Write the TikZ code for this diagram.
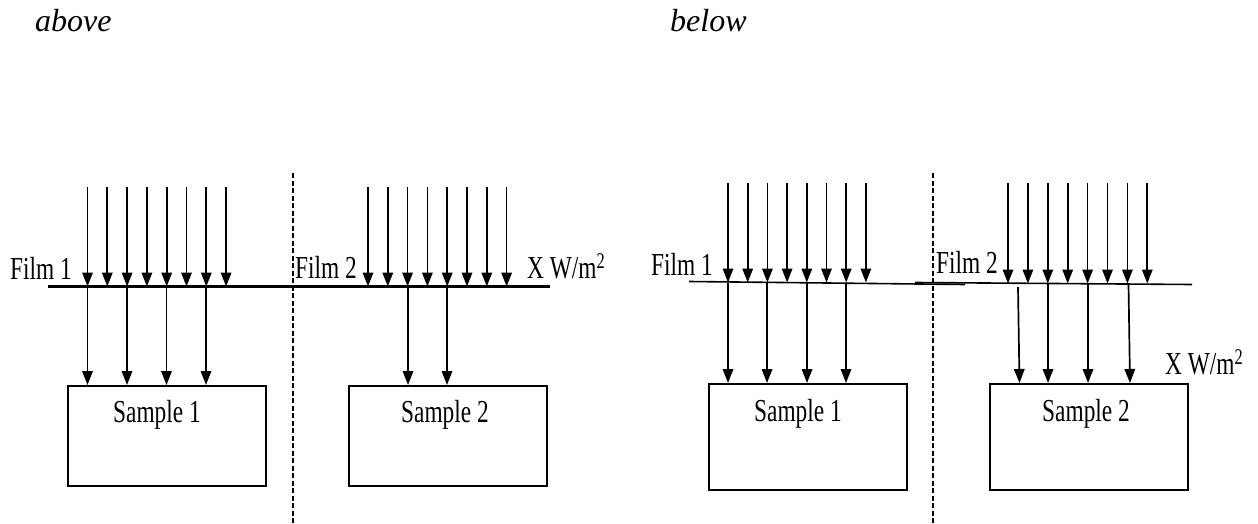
\documentclass[tikz,border=0pt]{standalone}
\usepackage{fontspec}
\setmainfont{Liberation Serif}
\newfontfamily\narrowserif[FakeStretch=0.73]{Liberation Serif}
\usetikzlibrary{arrows.meta}

\tikzset{
  ray/.style={line width=1.7pt, -{Triangle[width=10.5pt,length=14pt]}},
  filmline/.style={line width=3pt},
  thinfilm/.style={line width=1.6pt},
  divider/.style={line width=1.3pt, dash pattern=on 5pt off 2.5pt},
  samplebox/.style={draw, line width=2pt, minimum width=198pt, inner sep=0pt},
  lbl/.style={inner sep=0pt, font=\narrowserif\fontsize{32}{36}\selectfont},
  heading/.style={inner sep=0pt, font=\fontsize{32}{36}\selectfont\itshape},
}

\begin{document}
\begin{tikzpicture}[x=1pt, y=-1pt]
\useasboundingbox (0,0) rectangle (1258,524);

% ---------- headings ----------
\node[heading, anchor=base west] (habove) at (35,32) {above};
\node[heading, anchor=base west] (hbelow) at (670,32) {below};

% ================= left panel: films above the samples =================
% film (one continuous sheet under both halves)
\coordinate (fA1) at (48,286.5);
\coordinate (fA2) at (550,286.5);
\draw[filmline] (fA1) -- (fA2);

% divider
\coordinate (dA1) at (293,173);
\coordinate (dA2) at (293,523);
\draw[divider] (dA1) -- (dA2);

% samples
\node[samplebox, minimum height=100pt, anchor=north west] (sA1) at (67,385) {};
\node[samplebox, minimum height=100pt, anchor=north west] (sA2) at (348,385) {};
\node[lbl, anchor=base] (tA1) at (157,422) {Sample 1};
\node[lbl, anchor=base] (tA2) at (445,422) {Sample 2};

% labels
\node[lbl, anchor=base east] (lA1) at (72,279) {Film 1};
\node[lbl, anchor=base west] (lA2) at (295,278) {Film 2};
\node[lbl, anchor=base west] (xA) at (527,278) {X W/m\textsuperscript{2}};

% incident rays on film 1 and film 2
\foreach \i in {0,...,7} {
  \coordinate (pA\i) at ({87.5+19.8*\i},187);
  \draw[ray] (pA\i) -- (pA\i |- fA1);
  \coordinate (qA\i) at ({368+19.8*\i},187);
  \draw[ray] (qA\i) -- (qA\i |- fA1);
}
% transmitted rays
\foreach \x [count=\k] in {87.5,127,166.5,206} {
  \coordinate (uA\k) at (\x,286.5);
  \draw[ray] (uA\k) -- (uA\k |- sA1.north);
}
\foreach \x [count=\k] in {408,447} {
  \coordinate (vA\k) at (\x,286.5);
  \draw[ray] (vA\k) -- (vA\k |- sA2.north);
}

% ================= right panel: films below =================
\coordinate (fB1) at (689,281.5);
\coordinate (fB2) at (965,284.5);
\coordinate (fB3) at (915,282.5);
\coordinate (fB4) at (1192,284.5);
\draw[thinfilm] (fB1) -- (fB2);
\draw[thinfilm] (fB3) -- (fB4);

\coordinate (dB1) at (933,173);
\coordinate (dB2) at (933,523);
\draw[divider] (dB1) -- (dB2);

\node[samplebox, minimum height=106pt, anchor=north west] (sB1) at (708,383) {};
\node[samplebox, minimum height=106pt, anchor=north west] (sB2) at (989,383) {};
\node[lbl, anchor=base] (tB1) at (798,421) {Sample 1};
\node[lbl, anchor=base] (tB2) at (1086,421) {Sample 2};

\node[lbl, anchor=base east] (lB1) at (713,275) {Film 1};
\node[lbl, anchor=base west] (lB2) at (936,273) {Film 2};
\node[lbl, anchor=base west] (xB) at (1165,374) {X W/m\textsuperscript{2}};

\foreach \i in {0,...,7} {
  \coordinate (pB\i) at ({728+19.7*\i},183);
  \coordinate (pBe\i) at ({728+19.7*\i},282.5);
  \draw[ray] (pB\i) -- (pBe\i);
  \coordinate (qB\i) at ({1008+19.9*\i},183);
  \coordinate (qBe\i) at ({1008+19.9*\i},283.5);
  \draw[ray] (qB\i) -- (qBe\i);
}
\foreach \x [count=\k] in {728,767,807,846} {
  \coordinate (uB\k) at (\x,283);
  \draw[ray] (uB\k) -- (uB\k |- sB1.north);
}
% transmitted rays under film 2 (two of them slightly skewed)
\coordinate (vB1) at (1018,287);   \coordinate (wB1) at (1019.5,383);
\coordinate (vB2) at (1048,284);   \coordinate (wB2) at (1048,383);
\coordinate (vB3) at (1088,284);   \coordinate (wB3) at (1088,383);
\coordinate (vB4) at (1128.5,284); \coordinate (wB4) at (1130,383);
\foreach \k in {1,...,4} {
  \draw[ray] (vB\k) -- (wB\k);
}
\end{tikzpicture}
\end{document}
